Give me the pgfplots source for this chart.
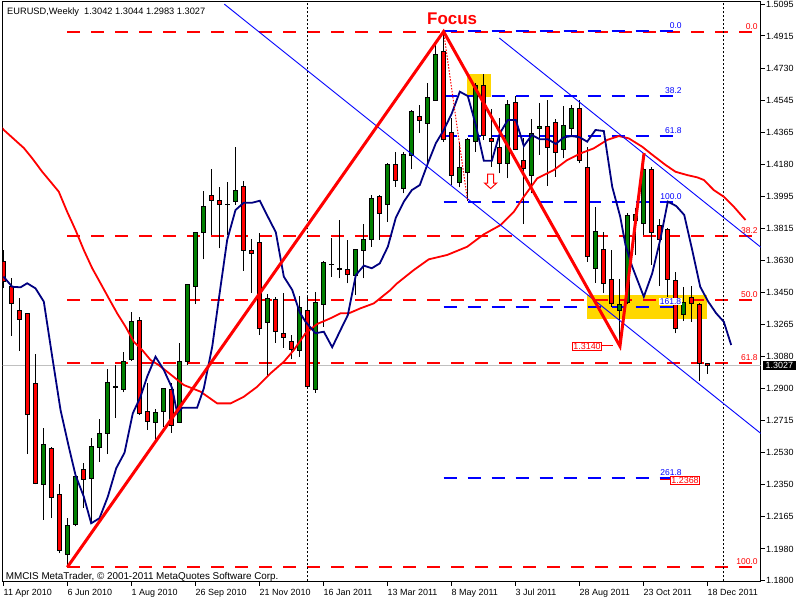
\documentclass[border=0pt]{standalone}
\usepackage{pgfplots}
\pgfplotsset{compat=1.18}
\usepackage{pgfplotstable}
\usepackage{fontspec}
\setmainfont{Liberation Sans}
\definecolor{mtgreen}{RGB}{0,128,0}
\definecolor{mtnavy}{RGB}{0,0,128}
\definecolor{mtgold}{RGB}{255,215,0}
\definecolor{mtsilver}{RGB}{192,192,192}
\definecolor{mtblue}{RGB}{0,0,255}
\newcommand\tickfont{\fontsize{9}{10}\selectfont}
\newcommand\fibfont{\fontsize{8.5}{9}\selectfont}

\pgfplotstableread{
i o h l c
0 1.3623 1.3690 1.3473 1.3509
1 1.3480 1.3530 1.3200 1.3385
2 1.3343 1.3416 1.3114 1.3294
3 1.3328 1.3332 1.2522 1.2750
4 1.2928 1.3095 1.2350 1.2356
5 1.2350 1.2674 1.2146 1.2575
6 1.2552 1.2565 1.2156 1.2273
7 1.2289 1.2352 1.1955 1.1974
8 1.1950 1.2159 1.1876 1.2117
9 1.2121 1.2400 1.2110 1.2394
10 1.2432 1.2472 1.2215 1.2375
11 1.2384 1.2615 1.2127 1.2569
12 1.2562 1.2724 1.2479 1.2642
13 1.2642 1.3008 1.2523 1.2934
14 1.2901 1.3032 1.2731 1.2912
15 1.2894 1.3109 1.2876 1.3055
16 1.3065 1.3334 1.3055 1.3282
17 1.3288 1.3309 1.2747 1.2756
18 1.2765 1.2928 1.2661 1.2712
19 1.2705 1.2781 1.2590 1.2762
20 1.2769 1.2902 1.2680 1.2899
21 1.2894 1.2928 1.2645 1.2684
22 1.2705 1.3157 1.2700 1.3051
23 1.3051 1.3497 1.3032 1.3494
24 1.3484 1.3795 1.3381 1.3792
25 1.3792 1.4028 1.3637 1.3938
26 1.4001 1.4154 1.3776 1.3976
27 1.3975 1.4049 1.3700 1.3953
28 1.3953 1.4078 1.3776 1.3951
29 1.3967 1.4281 1.3948 1.4032
30 1.4056 1.4085 1.3572 1.3690
31 1.3685 1.3753 1.3446 1.3671
32 1.3734 1.3786 1.3204 1.3242
33 1.3277 1.3437 1.2966 1.3414
34 1.3408 1.3423 1.3160 1.3223
35 1.3210 1.3446 1.3131 1.3191
36 1.3166 1.3204 1.3065 1.3122
37 1.3113 1.3427 1.3080 1.3363
38 1.3343 1.3427 1.2905 1.2912
39 1.2894 1.3452 1.2874 1.3389
40 1.3376 1.3627 1.3252 1.3618
41 1.3606 1.3757 1.3538 1.3610
42 1.3582 1.3862 1.3528 1.3578
43 1.3576 1.3748 1.3500 1.3553
44 1.3543 1.3697 1.3433 1.3694
45 1.3690 1.3839 1.3528 1.3752
46 1.3752 1.4005 1.3709 1.3986
47 1.3995 1.4005 1.3748 1.3900
48 1.3952 1.4186 1.3852 1.4182
49 1.4181 1.4249 1.4052 1.4087
50 1.4043 1.4249 1.4015 1.4234
51 1.4230 1.4491 1.4152 1.4485
52 1.4453 1.4520 1.4361 1.4434
53 1.4415 1.4647 1.4167 1.4564
54 1.4548 1.4882 1.4545 1.4811
55 1.4825 1.4940 1.4310 1.4320
56 1.4364 1.4444 1.4062 1.4118
57 1.4078 1.4306 1.4049 1.4163
58 1.4135 1.4329 1.3971 1.4320
59 1.4310 1.4647 1.4253 1.4634
60 1.4634 1.4697 1.4320 1.4348
61 1.4329 1.4495 1.4167 1.4310
62 1.4278 1.4444 1.4129 1.4186
63 1.4186 1.4548 1.4100 1.4524
64 1.4533 1.4571 1.4260 1.4266
65 1.4201 1.4329 1.3839 1.4158
66 1.4114 1.4440 1.4015 1.4358
67 1.4386 1.4533 1.4234 1.4396
68 1.4396 1.4548 1.4058 1.4278
69 1.4421 1.4438 1.4110 1.4249
70 1.4266 1.4516 1.4215 1.4400
71 1.4386 1.4520 1.4348 1.4501
72 1.4501 1.4548 1.4186 1.4205
73 1.4161 1.4281 1.3623 1.3656
74 1.3586 1.3935 1.3503 1.3795
75 1.3694 1.3795 1.3443 1.3500
76 1.3523 1.3690 1.3366 1.3385
77 1.3343 1.3523 1.3140 1.3380
78 1.3391 1.3900 1.3381 1.3885
79 1.3862 1.3929 1.3662 1.3894
80 1.3843 1.4243 1.3776 1.4152
81 1.4152 1.4167 1.3605 1.3792
82 1.3829 1.3866 1.3484 1.3752
83 1.3809 1.3818 1.3423 1.3523
84 1.3515 1.3566 1.3214 1.3242
85 1.3323 1.3477 1.3284 1.3391
86 1.3420 1.3484 1.3280 1.3385
87 1.3381 1.3385 1.2943 1.3042
88 1.3042 1.3044 1.2983 1.3027
}\candles

\begin{document}
\begin{tikzpicture}
\useasboundingbox (0,0) rectangle (800bp,600bp);
\fill[white] (0,0) rectangle (800bp,600bp);
\begin{axis}[
  at={(2.5bp,18.5bp)}, anchor=south west,
  scale only axis, width=758bp, height=580bp,
  xmin=-0.125, xmax=94.625, ymin=1.1794, ymax=1.5112,
  enlargelimits=false,
  axis line style={black, line width=1bp},
  clip mode=individual,
  tick align=outside, major tick length=4bp,
  major tick style={black, line width=1bp},
  xtick={0,8,...,88},
  xticklabels={11 Apr 2010, 6 Jun 2010, 1 Aug 2010, 26 Sep 2010, 21 Nov 2010, 16 Jan 2011, 13 Mar 2011, 8 May 2011, 3 Jul 2011, 28 Aug 2011, 23 Oct 2011, 18 Dec 2011},
  xtick pos=left,
  xticklabel style={anchor=north west, inner xsep=0pt, font=\tickfont},
  ytick={1.1800,1.1980,1.2165,1.2350,1.2530,1.2715,1.2900,1.3080,1.3265,1.3450,1.3630,1.3815,1.3995,1.4180,1.4365,1.4545,1.4730,1.4915,1.5095},
  yticklabels={1.1800,1.1980,1.2165,1.2350,1.2530,1.2715,1.2900,1.3080,1.3265,1.3450,1.3630,1.3815,1.3995,1.4180,1.4365,1.4545,1.4730,1.4915,1.5095},
  ytick pos=right, yticklabel pos=right,
  yticklabel style={anchor=west, inner xsep=1.5bp, font=\tickfont},
  scaled y ticks=false,
]
% close price line
\addplot[mtsilver, line width=1bp, forget plot] coordinates {(-0.2,1.3030) (94.7,1.3030)};
% yellow rectangles
\addplot[fill=mtgold, draw=none, forget plot] coordinates {(57.94,1.4564) (60.94,1.4564) (60.94,1.4697) (57.94,1.4697)} -- cycle;
\addplot[fill=mtgold, draw=none, forget plot] coordinates {(72.94,1.3296) (87.94,1.3296) (87.94,1.3433) (72.94,1.3433)} -- cycle;
% red fibo retracement levels
\addplot[red, line width=2bp, dash pattern=on 13bp off 11bp, forget plot] coordinates {(7.98,1.49375) (94.7,1.49375)};
\addplot[red, line width=2bp, dash pattern=on 13bp off 11bp, forget plot] coordinates {(7.98,1.37705) (94.7,1.37705)};
\addplot[red, line width=2bp, dash pattern=on 13bp off 11bp, forget plot] coordinates {(7.98,1.34044) (94.7,1.34044)};
\addplot[red, line width=2bp, dash pattern=on 13bp off 11bp, forget plot] coordinates {(7.98,1.30440) (94.7,1.30440)};
\addplot[red, line width=2bp, dash pattern=on 13bp off 11bp, forget plot] coordinates {(7.98,1.18770) (94.7,1.18770)};
% blue fibo levels
\addplot[mtblue, line width=2bp, dash pattern=on 13bp off 11bp, forget plot] coordinates {(55.01,1.49432) (84.79,1.49432)};
\addplot[mtblue, line width=2bp, dash pattern=on 13bp off 11bp, forget plot] coordinates {(55.01,1.45714) (84.79,1.45714)};
\addplot[mtblue, line width=2bp, dash pattern=on 13bp off 11bp, forget plot] coordinates {(55.01,1.43425) (84.79,1.43425)};
\addplot[mtblue, line width=2bp, dash pattern=on 13bp off 11bp, forget plot] coordinates {(55.01,1.39650) (84.79,1.39650)};
\addplot[mtblue, line width=2bp, dash pattern=on 13bp off 11bp, forget plot] coordinates {(55.01,1.33643) (84.79,1.33643)};
\addplot[mtblue, line width=2bp, dash pattern=on 13bp off 11bp, forget plot] coordinates {(55.01,1.23861) (84.79,1.23861)};
% vertical period separators
\addplot[black, line width=1bp, dash pattern=on 2bp off 2bp, forget plot] coordinates {(38.0,1.1794) (38.0,1.5112)};
\addplot[black, line width=1bp, dash pattern=on 2bp off 2bp, forget plot] coordinates {(90.0,1.1794) (90.0,1.5112)};
% candles
\pgfplotsinvokeforeach{0,...,88}{%
  \pgfplotstablegetelem{#1}{o}\of\candles \let\candO\pgfplotsretval
  \pgfplotstablegetelem{#1}{h}\of\candles \let\candH\pgfplotsretval
  \pgfplotstablegetelem{#1}{l}\of\candles \let\candL\pgfplotsretval
  \pgfplotstablegetelem{#1}{c}\of\candles \let\candC\pgfplotsretval
  \pgfmathsetmacro\candXa{#1-0.25}%
  \pgfmathsetmacro\candXb{#1+0.25}%
  \ifdim\candC pt>\candO pt \def\candF{mtgreen}\else\def\candF{red}\fi
  \edef\candDo{%
    \noexpand\addplot[black, line width=1bp, forget plot] coordinates {(#1,\candL) (#1,\candH)};
    \noexpand\addplot[draw=black, fill=\candF, line width=1bp, forget plot] coordinates {(\candXa,\candO) (\candXb,\candO) (\candXb,\candC) (\candXa,\candC)} -- cycle;
  }%
  \candDo
}
% red moving average
\addplot[red, line width=1.8bp, forget plot] coordinates {
(-0.2,1.4390) (0.04,1.4377) (2.54,1.4274) (3.59,1.4215) (4.84,1.4138) (5.88,1.4081) (6.91,1.4024) (7.96,1.3909) (9,1.3805) (10.04,1.3690) (11.09,1.3586) (12.13,1.3500) (13.16,1.3414) (14.21,1.3328) (15.25,1.3252) (16.29,1.3166) (17.34,1.3118) (18.38,1.3061) (19.41,1.3032) (20.46,1.2994) (21.5,1.2956) (22.54,1.2918) (23.59,1.2899) (24.63,1.2880) (26.71,1.2813) (28.38,1.2813) (30.04,1.2851) (31.71,1.2908) (33.38,1.2985) (35.04,1.3051) (36.29,1.3118) (37.75,1.3214) (39.21,1.3267) (40.88,1.3300) (42.13,1.3328) (43.16,1.3328) (44.63,1.3357) (46.29,1.3385) (48.38,1.3462) (49.21,1.3500) (51.29,1.3576) (53.16,1.3637) (55.46,1.3662) (57.96,1.3709) (60.04,1.3780) (62.13,1.3833) (63.79,1.3909) (65.04,1.3995) (66.71,1.4100) (68.79,1.4148) (70.46,1.4205) (72.13,1.4243) (73.79,1.4272) (75.46,1.4320) (76.91,1.4342) (78.16,1.4329) (79.84,1.4281) (80.88,1.4243) (82.75,1.4177) (84,1.4138) (85.46,1.4119) (86.71,1.4106) (87.54,1.4091) (88.79,1.4033) (90.04,1.3995) (91.29,1.3938) (92.75,1.3862)
};
% navy moving average
\addplot[mtnavy, line width=1.8bp, forget plot] coordinates {
(0,1.3538) (1.09,1.3480) (2.13,1.3477) (2.96,1.3500) (4,1.3471) (5.04,1.3395) (6.09,1.3080) (7.13,1.2775) (8.16,1.2565) (9,1.2403) (10.04,1.2279) (10.96,1.2127) (12,1.2156) (13.04,1.2279) (14.09,1.2442) (15.13,1.2531) (16.16,1.2756) (17.13,1.2851) (17.96,1.2966) (19,1.3080) (20.04,1.3004) (21.09,1.2899) (21.71,1.2756) (22.34,1.2788) (24.2,1.2788) (25.04,1.2899) (26.09,1.3137) (27.13,1.3480) (27.96,1.3748) (29,1.3919) (30.04,1.3961) (31.09,1.3961) (32.04,1.3972) (33.04,1.3881) (34.04,1.3792) (35.04,1.3538) (36.09,1.3462) (37.04,1.3332) (37.75,1.3280) (39,1.3214) (40.04,1.3223) (41.09,1.3134) (42.13,1.3233) (43.04,1.3318) (44.04,1.3547) (45.04,1.3601) (46.04,1.3586) (47.04,1.3614) (48.04,1.3709) (49.04,1.3875) (50.04,1.3967) (51.04,1.4033) (52.04,1.4062) (53.04,1.4186) (54.04,1.4301) (55.04,1.4377) (56.04,1.4472) (57.04,1.4596) (58.04,1.4571) (59.04,1.4405) (60.04,1.4201) (61.04,1.4201) (62.04,1.4358) (63.04,1.4434) (64.04,1.4434) (65.04,1.4285) (66.04,1.4348) (67.04,1.4324) (68.04,1.4324) (69.04,1.4297) (70.04,1.4335) (71.04,1.4342) (72.04,1.4335) (72.96,1.4310) (74,1.4377) (75.04,1.4371) (76.09,1.4052) (77.09,1.3881) (77.75,1.3719) (78.59,1.3595) (80.04,1.3423) (81.09,1.3557) (82.13,1.3757) (83.04,1.3967) (84.09,1.3942) (85.09,1.3891) (86.09,1.3690) (87.09,1.3480) (88.09,1.3395) (89.09,1.3328) (90.04,1.3280) (90.96,1.3147)
};
% channel lines
\addplot[mtblue, line width=0.9bp, forget plot] coordinates {(27.6,1.5097) (94.7,1.2640)};
\addplot[mtblue, line width=0.9bp, forget plot] coordinates {(61.98,1.4903) (94.7,1.3705)};
% dotted red from peak
\addplot[red, line width=1bp, dash pattern=on 1.5bp off 1.5bp, forget plot] coordinates {(55.01,1.4940) (58.01,1.3971)};
% zigzag
\addplot[red, line width=3bp, forget plot] coordinates {(7.98,1.1876) (55.01,1.4940) (77.06,1.3140) (80.07,1.4245)};
% hollow down arrow
\addplot[red, line width=1bp, fill=white, forget plot] coordinates {(60.51,1.4125) (61.27,1.4125) (61.27,1.4073) (61.64,1.4073) (60.89,1.4042) (60.14,1.4073) (60.51,1.4073)} -- cycle;
% pointer lines for labels
\addplot[red, line width=1bp, forget plot] coordinates {(74.83,1.3143) (76.14,1.3143)};
\addplot[red, line width=1bp, forget plot] coordinates {(82.1,1.2375) (83.35,1.2375)};

% red fib labels
\node[anchor=south east, text=red, font=\fibfont, inner sep=0pt, yshift=2bp] at (axis cs:94.29,1.49375) {0.0};
\node[anchor=south east, text=red, font=\fibfont, inner sep=0pt, yshift=2bp] at (axis cs:94.29,1.37705) {38.2};
\node[anchor=south east, text=red, font=\fibfont, inner sep=0pt, yshift=2bp] at (axis cs:94.29,1.34044) {50.0};
\node[anchor=south east, text=red, font=\fibfont, inner sep=0pt, yshift=2bp] at (axis cs:94.29,1.30440) {61.8};
\node[anchor=south east, text=red, font=\fibfont, inner sep=0pt, yshift=2bp] at (axis cs:94.29,1.18770) {100.0};
% blue fib labels
\node[anchor=south east, text=mtblue, font=\fibfont, inner sep=0pt, yshift=2bp] at (axis cs:84.79,1.49432) {0.0};
\node[anchor=south east, text=mtblue, font=\fibfont, inner sep=0pt, yshift=2bp] at (axis cs:84.79,1.45714) {38.2};
\node[anchor=south east, text=mtblue, font=\fibfont, inner sep=0pt, yshift=2bp] at (axis cs:84.79,1.43425) {61.8};
\node[anchor=south east, text=mtblue, font=\fibfont, inner sep=0pt, yshift=2bp] at (axis cs:84.79,1.39650) {100.0};
\node[anchor=south east, text=mtblue, font=\fibfont, inner sep=0.5bp, fill=white, yshift=1.5bp] at (axis cs:84.79,1.33643) {161.8};
\node[anchor=south east, text=mtblue, font=\fibfont, inner sep=0pt, yshift=2bp] at (axis cs:84.79,1.23861) {261.8};
% price boxes
\node[draw=red, line width=1bp, fill=white, text=red, font=\tickfont, inner xsep=1bp, inner ysep=1bp] at (axis cs:72.94,1.3140) {1.3140};
\node[draw=red, line width=1bp, fill=white, text=red, font=\tickfont, inner xsep=1bp, inner ysep=1bp] at (axis cs:85.19,1.2372) {1.2368};
\node[anchor=west, fill=black, text=white, font=\tickfont, inner xsep=3bp, inner ysep=1.5bp, xshift=2bp] at (axis cs:94.625,1.3030) {1.3027};
\end{axis}
\node[anchor=base west, inner sep=0pt, font=\fontsize{9.3}{10}\selectfont] at (7bp,585.7bp) {EURUSD,Weekly\ \ 1.3042 1.3044 1.2983 1.3027};
\node[anchor=base west, inner sep=0pt, text=red, font=\fontsize{17}{18}\selectfont\bfseries] at (427bp,575bp) {Focus};
\node[anchor=base west, inner sep=0pt, font=\fontsize{9.9}{11}\selectfont] at (5.7bp,21bp) {MMCIS MetaTrader, © 2001-2011 MetaQuotes Software Corp.};
\end{tikzpicture}
\end{document}
